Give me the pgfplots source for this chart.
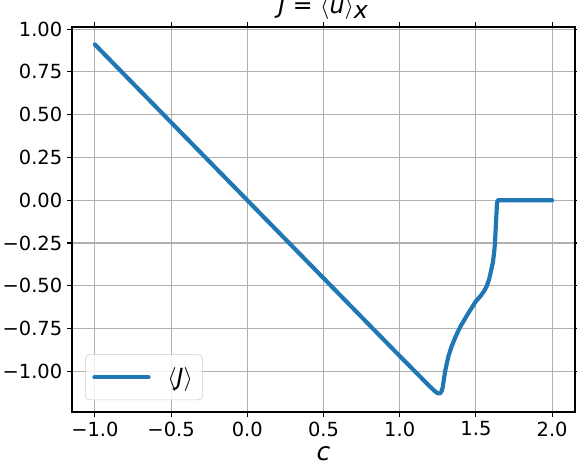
\documentclass[border=0pt]{standalone}
\usepackage{pgfplots}
\pgfplotsset{compat=1.18}
\usepackage{fontspec}
\setmainfont{DejaVu Sans}
\definecolor{mplblue}{HTML}{1F77B4}
\definecolor{gridgray}{HTML}{B0B0B0}
\definecolor{legframe}{HTML}{CCCCCC}
\begin{document}
\begin{tikzpicture}
\begin{axis}[
    name=main,
    scale only axis,
    width=362.16pt,
    height=277.2pt,
    xmin=-1.15, xmax=2.15,
    ymin=-1.237, ymax=1.012,
    axis line style={line width=0.8pt},
    tick style={line width=0.8pt, black},
    tick align=outside,
    major tick length=3.5pt,
    xtick={-1,-0.5,0,0.5,1,1.5,2},
    xticklabels={−1.0,−0.5,0.0,0.5,1.0,1.5,2.0},
    ytick={-1,-0.75,-0.5,-0.25,0,0.25,0.5,0.75,1},
    yticklabels={−1.00,−0.75,−0.50,−0.25,0.00,0.25,0.50,0.75,1.00},
    ticklabel style={font=\fontsize{14}{16}\selectfont},
    grid=major,
    major grid style={line width=0.8pt, gridgray},
    title={\textit{J} = $\langle$\textit{u}$\rangle_{\textit{x}}$},
    title style={font=\fontsize{17}{19}\selectfont, at={(0.5,1)}, anchor=base, yshift=3.5pt, inner sep=0pt},
    xlabel={\textit{c}},
    xlabel style={font=\fontsize{18}{20}\selectfont},
    legend style={at={(0.026,0.031)}, anchor=south west,
        draw=legframe, rounded corners=3pt, fill=white, fill opacity=0.8, text opacity=1,
        font=\fontsize{17}{20}\selectfont, inner xsep=5pt, inner ysep=7pt,
        nodes={inner sep=2pt}, column sep=10pt},
    legend cell align=left,
    legend image code/.code={\draw[#1] (0pt,0pt) -- (39pt,0pt);},
]
\addplot[mplblue, line width=3pt, line join=round, line cap=round] coordinates {
(-1.0, 0.91)
(-0.5, 0.455)
(0.0, 0.0)
(0.5, -0.455)
(1.0, -0.91)
(1.15, -1.045)
(1.2, -1.09)
(1.23, -1.115)
(1.25, -1.128)
(1.265, -1.128)
(1.275, -1.115)
(1.283, -1.09)
(1.29, -1.045)
(1.30, -0.99)
(1.32, -0.91)
(1.34, -0.855)
(1.37, -0.79)
(1.40, -0.735)
(1.45, -0.66)
(1.50, -0.59)
(1.53, -0.56)
(1.554, -0.53)
(1.572, -0.50)
(1.587, -0.46)
(1.60, -0.41)
(1.612, -0.36)
(1.62, -0.30)
(1.625, -0.25)
(1.63, -0.16)
(1.635, -0.075)
(1.638, -0.02)
(1.643, 0.0)
(2.0, 0.0)
};
\addlegendentry{$\langle$\textit{J}$\rangle$}
\end{axis}
\pgfresetboundingbox
\path[use as bounding box] ([shift={(-51.84pt,-38.88pt)}]main.south west) rectangle ([shift={(363.6pt,296.64pt)}]main.south west);
\end{tikzpicture}
\end{document}
